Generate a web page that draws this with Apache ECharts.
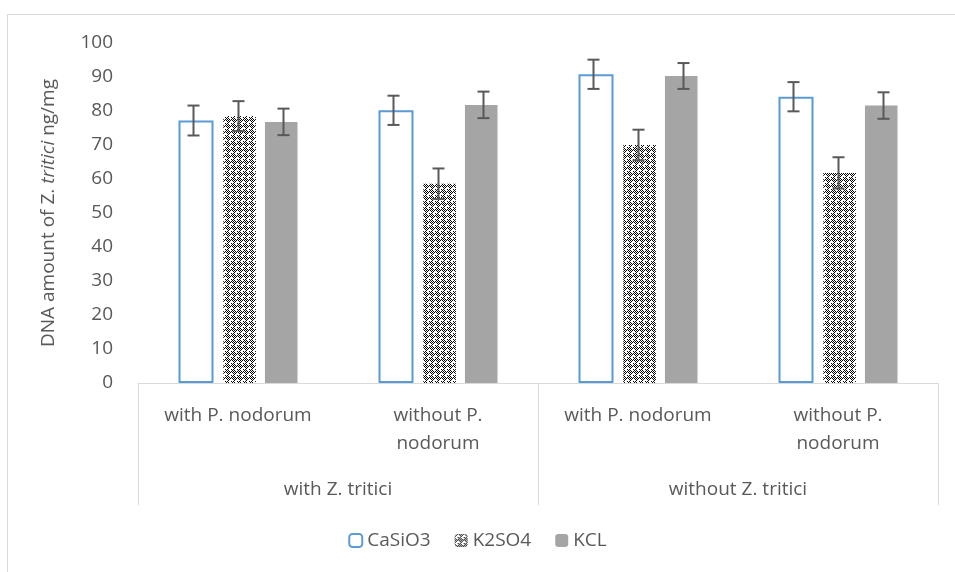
<!DOCTYPE html>
<html>
<head>
<meta charset="utf-8">
<script src="https://cdn.jsdelivr.net/npm/echarts@6/dist/echarts.min.js"></script>
<style>
  html, body { margin: 0; padding: 0; background: #fff; }
  #chart { width: 955px; height: 572px; }
</style>
</head>
<body>
<div id="chart"></div>
<script>
const subCategories = ['with P. nodorum', 'without P.\nnodorum', 'with P. nodorum', 'without P.\nnodorum']
const groupCategories = ['with Z. tritici', 'without Z. tritici']
const seriesNames = ['CaSiO3', 'K2SO4', 'KCL']
const caSiO3 = [77.2, 80.2, 90.8, 84.2]
const k2SO4 = [78.5, 58.6, 70.0, 61.8]
const kcl = [76.8, 81.8, 90.3, 81.6]
const caSiO3Err = [4.4, 4.3, 4.3, 4.3]
const k2SO4Err = [4.4, 4.5, 4.5, 4.6]
const kclErr = [3.9, 3.9, 3.8, 3.9]
const yTicks = [0, 10, 20, 30, 40, 50, 60, 70, 80, 90, 100]

const font = '"Open Sans", sans-serif'
const textColor = '#595959'
const fontSize = 19
const barWidthPct = 0.175
const barGapPct = 0.28

// dotted checker fill used by K2SO4
function makePattern() {
  const n = 6
  const c = document.createElement('canvas')
  c.width = n
  c.height = n
  const ctx = c.getContext('2d')
  ctx.fillStyle = '#fff'
  ctx.fillRect(0, 0, n, n)
  ctx.fillStyle = '#000'
  for (let x = 0; x < n; x++) {
    for (let y = 0; y < n; y++) {
      const dx = x + 0.5 - n / 2
      const dy = y + 0.5 - n / 2
      const inHole = dx * dx + dy * dy < 3
      if ((x + y) % 2 === 0 && !inHole) ctx.fillRect(x, y, 1, 1)
    }
  }
  ctx.fillRect(n / 2, n / 2, 1, 1)
  return c
}
const pattern = { image: makePattern(), repeat: 'repeat' }

const values = [caSiO3, k2SO4, kcl]
const errors = [caSiO3Err, k2SO4Err, kclErr]
const errData = []
values.forEach((vals, s) => {
  vals.forEach((v, i) => errData.push([i, s, v, errors[s][i]]))
})

const chart = echarts.init(document.getElementById('chart'), null, { renderer: 'canvas' })

chart.setOption({
  animation: false,
  backgroundColor: '#fff',
  textStyle: { fontFamily: font },
  graphic: [{
    type: 'rect',
    shape: { x: 7.5, y: 14.5, width: 2000, height: 2000 },
    style: { fill: 'none', stroke: '#d9d9d9', lineWidth: 1 },
    silent: true,
  }],
  legend: {
    data: seriesNames,
    bottom: 17,
    left: 'center',
    itemWidth: 13,
    itemHeight: 13,
    itemGap: 24,
    textStyle: { color: textColor, fontSize: fontSize, fontFamily: font },
  },
  grid: { left: 138, right: 17, top: 43, bottom: 189 },
  xAxis: [{
    type: 'category',
    data: subCategories,
    axisLine: { lineStyle: { color: '#d9d9d9', width: 1 } },
    axisTick: { show: false },
    axisLabel: { color: textColor, fontSize: fontSize, fontFamily: font, margin: 19, lineHeight: 28, interval: 0 },
  }, {
    type: 'category',
    position: 'bottom',
    data: groupCategories,
    axisLine: { show: false },
    axisTick: { show: true, length: 122, lineStyle: { color: '#d9d9d9', width: 1 } },
    axisLabel: { color: textColor, fontSize: fontSize, fontFamily: font, margin: 97, interval: 0 },
  }],
  yAxis: {
    type: 'value',
    min: yTicks[0],
    max: yTicks[yTicks.length - 1],
    interval: 10,
    axisLine: { show: false },
    axisTick: { show: false },
    splitLine: { show: false },
    axisLabel: { color: textColor, fontSize: fontSize, fontFamily: font, margin: 25 },
    name: '{n|DNA amount of Z. }{i|tritici}{n| ng/mg}',
    nameLocation: 'middle',
    nameRotate: 90,
    nameGap: 80,
    nameTextStyle: {
      rich: {
        n: { color: textColor, fontSize: fontSize, fontFamily: font },
        i: { color: textColor, fontSize: fontSize, fontFamily: font, fontStyle: 'italic' },
      },
    },
  },
  series: [{
    name: 'CaSiO3',
    type: 'bar',
    barWidth: barWidthPct * 100 + '%',
    barGap: barGapPct * 100 + '%',
    data: caSiO3,
    itemStyle: { color: '#fff', borderColor: '#5b9bd5', borderWidth: 2 },
  }, {
    name: 'K2SO4',
    type: 'bar',
    data: k2SO4,
    itemStyle: { color: pattern },
  }, {
    name: 'KCL',
    type: 'bar',
    data: kcl,
    itemStyle: { color: '#a5a5a5' },
  }, {
    name: 'err',
    type: 'custom',
    z: 10,
    data: errData,
    renderItem: (params, api) => {
      const cat = api.value(0)
      const s = api.value(1)
      const mean = api.value(2)
      const err = api.value(3)
      const band = api.size([1, 0])[0]
      const offset = (s - 1) * band * barWidthPct * (1 + barGapPct)
      const top = api.coord([cat, mean + err])
      const bot = api.coord([cat, mean - err])
      const x = Math.round(top[0] + offset) + 0.5
      const cap = 6
      const style = { stroke: '#595959', lineWidth: 2 }
      return {
        type: 'group',
        children: [
          { type: 'line', shape: { x1: x, y1: top[1], x2: x, y2: bot[1] }, style },
          { type: 'line', shape: { x1: x - cap, y1: top[1], x2: x + cap, y2: top[1] }, style },
          { type: 'line', shape: { x1: x - cap, y1: bot[1], x2: x + cap, y2: bot[1] }, style },
        ],
      }
    },
  }],
})
</script>
</body>
</html>
